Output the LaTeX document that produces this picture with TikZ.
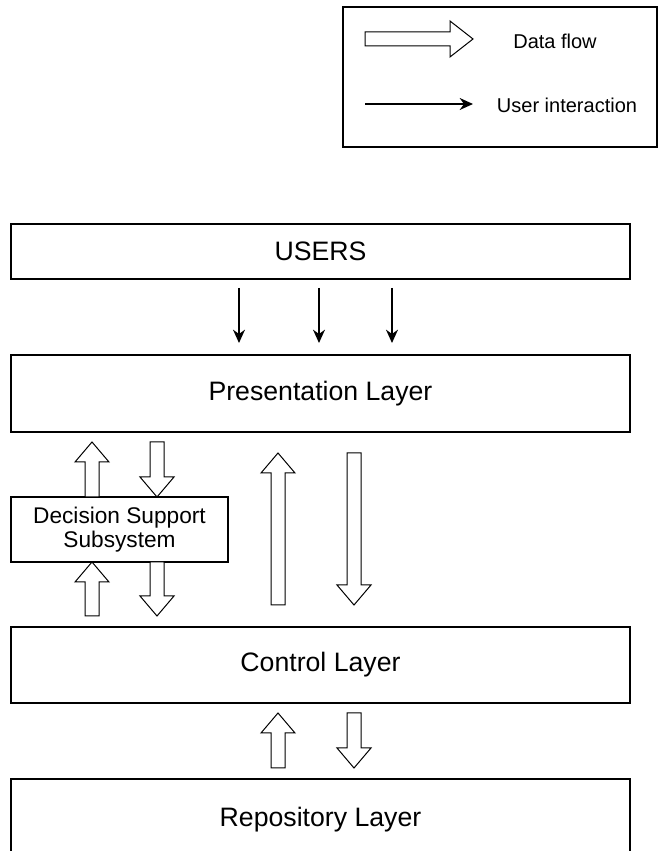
\documentclass[tikz,border=0pt]{standalone}
\usepackage{fontspec}
\setmainfont{Liberation Sans}
\usetikzlibrary{positioning,calc,arrows.meta}
\tikzset{layer/.style={draw=black,line width=1pt,rectangle,outer sep=0pt,inner sep=0pt,
    minimum width=464.25pt,font=\fontsize{20}{24}\selectfont}}
\tikzset{flowarr/.style={draw=black,line width=0.75pt,fill=white,line join=miter}}
\tikzset{userarr/.style={line width=1pt,-{Stealth[length=10pt,width=9pt]}}}
% hollow block arrows, from tail to tip
\newcommand{\flowup}[2]{%
  \draw[flowarr] ($(#1)+(-7,0)$) -- ($(#2)+(-7,-20)$) -- ($(#2)+(-17,-20)$) -- (#2)
    -- ($(#2)+(17,-20)$) -- ($(#2)+(7,-20)$) -- ($(#1)+(7,0)$) -- cycle;}
\newcommand{\flowdown}[2]{%
  \draw[flowarr] ($(#1)+(-7,0)$) -- ($(#2)+(-7,20)$) -- ($(#2)+(-17,20)$) -- (#2)
    -- ($(#2)+(17,20)$) -- ($(#2)+(7,20)$) -- ($(#1)+(7,0)$) -- cycle;}
\newcommand{\flowright}[2]{%
  \draw[flowarr] ($(#1)+(0,-7)$) -- ($(#2)+(-23,-7)$) -- ($(#2)+(-23,-18)$) -- (#2)
    -- ($(#2)+(-23,18)$) -- ($(#2)+(-23,7)$) -- ($(#1)+(0,7)$) -- cycle;}
\begin{document}
\begin{tikzpicture}[x=0.75pt,y=0.75pt]
  \useasboundingbox (0,0) rectangle (660,851);
  % legend
  \node[draw=black,line width=1pt,minimum width=235.5pt,minimum height=105pt] (legend) at (500,774) {};
  \coordinate (lga) at (365,812);
  \coordinate (lgb) at (473,812);
  \coordinate (lgc) at (365,747);
  \coordinate (lgd) at (473,747);
  \flowright{lga}{lgb}
  \draw[userarr] (lgc) -- (lgd);
  \node[font=\fontsize{15}{18}\selectfont] (dflow) at (555,810) {Data flow};
  \node[font=\fontsize{15}{18}\selectfont] (uint) at (567,746) {User interaction};

  % layers
  \node[layer,minimum height=41.25pt] (users) at (320.5,599.5) {USERS};
  \node[layer,minimum height=57.75pt,below=57pt of users] (pres) {Presentation Layer};
  \node[layer,minimum height=57pt,below=146.25pt of pres] (ctrl) {Control Layer};
  \node[layer,minimum height=60.75pt,below=57pt of ctrl] (repo) {Repository Layer};
  \node[draw=black,line width=1pt,outer sep=0pt,minimum width=162.75pt,minimum height=48.75pt,
    align=center,font=\fontsize{17}{18.5}\selectfont,
    below=48.75pt of pres.south west,anchor=north west] (dss) {Decision Support\\Subsystem};

  % user interaction
  \foreach \ux in {239,319,392}
    \draw[userarr,shorten <=6.75pt,shorten >=9pt] (users.south -| \ux,0) -- (pres.north -| \ux,0);

  % data flow
  \coordinate (s1) at (dss.north -| 92,0);
  \coordinate (t1) at ($(pres.south -| 92,0)+(0,-10)$);
  \coordinate (s2) at ($(pres.south -| 157,0)+(0,-10)$);
  \coordinate (t2) at (dss.north -| 157,0);
  \coordinate (s3) at ($(ctrl.north -| 92,0)+(0,11)$);
  \coordinate (t3) at (dss.south -| 92,0);
  \coordinate (s4) at (dss.south -| 157,0);
  \coordinate (t4) at ($(ctrl.north -| 157,0)+(0,11)$);
  \coordinate (s5) at ($(ctrl.north -| 278,0)+(0,22)$);
  \coordinate (t5) at ($(pres.south -| 278,0)+(0,-21)$);
  \coordinate (s6) at ($(pres.south -| 354,0)+(0,-21)$);
  \coordinate (t6) at ($(ctrl.north -| 354,0)+(0,22)$);
  \coordinate (s7) at ($(repo.north -| 278,0)+(0,11)$);
  \coordinate (t7) at ($(ctrl.south -| 278,0)+(0,-10)$);
  \coordinate (s8) at ($(ctrl.south -| 354,0)+(0,-10)$);
  \coordinate (t8) at ($(repo.north -| 354,0)+(0,11)$);
  \flowup{s1}{t1}
  \flowdown{s2}{t2}
  \flowup{s3}{t3}
  \flowdown{s4}{t4}
  \flowup{s5}{t5}
  \flowdown{s6}{t6}
  \flowup{s7}{t7}
  \flowdown{s8}{t8}
\end{tikzpicture}
\end{document}
